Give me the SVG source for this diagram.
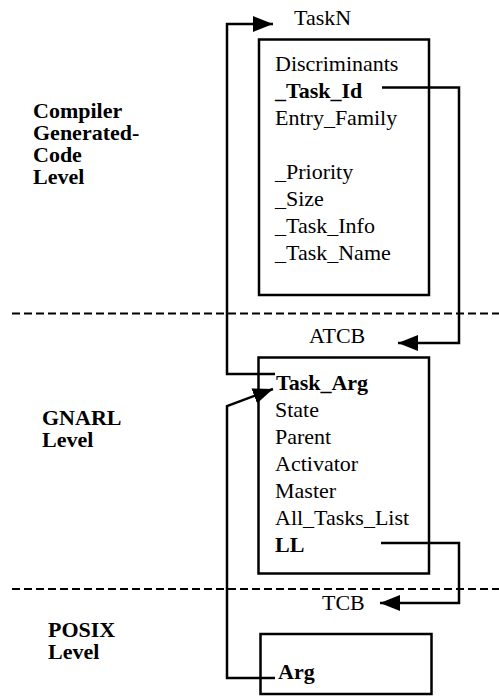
<svg xmlns="http://www.w3.org/2000/svg" width="499" height="696" viewBox="0 0 499 696">
  <style>
    .bg { fill: #ffffff; }
    .box { fill: none; stroke: #000; stroke-width: 2.5; }
    .link { fill: none; stroke: #000; stroke-width: 2.5; stroke-linejoin: miter; }
    .divider { fill: none; stroke: #000; stroke-width: 1.8; stroke-dasharray: 8 4; }
    .t { font-family: 'Liberation Serif', 'DejaVu Serif', serif; font-size: 22px; fill: #000; }
    .lbl { font-family: 'Liberation Serif', 'DejaVu Serif', serif; font-size: 22px; font-weight: bold; fill: #000; }
    .b { font-weight: bold; }
  </style>
  <defs>
    <marker id="arrow" markerUnits="userSpaceOnUse" markerWidth="20" markerHeight="16" refX="20" refY="8" orient="auto">
      <path d="M0,0 L20,8 L0,16 z" fill="#000"/>
    </marker>
  </defs>

  <rect class="bg" x="0" y="0" width="499" height="696"/>

  <!-- level dividers -->
  <g id="dividers">
    <line class="divider" x1="12" y1="313.5" x2="499" y2="313.5"/>
    <line class="divider" x1="12" y1="589" x2="499" y2="589"/>
  </g>

  <!-- level labels -->
  <g id="level-labels">
    <text class="lbl" x="33" y="118">Compiler</text>
    <text class="lbl" x="33" y="140">Generated-</text>
    <text class="lbl" x="33" y="162">Code</text>
    <text class="lbl" x="33" y="183.5">Level</text>
    <text class="lbl" x="42" y="425">GNARL</text>
    <text class="lbl" x="42" y="447">Level</text>
    <text class="lbl" x="48" y="637">POSIX</text>
    <text class="lbl" x="48" y="658.5">Level</text>
  </g>

  <!-- TaskN record -->
  <g id="taskn">
    <text class="t" x="294" y="25">TaskN</text>
    <rect class="box" x="259" y="39.5" width="170" height="255.5"/>
    <text class="t" x="275" y="71">Discriminants</text>
    <text class="t b" x="275" y="98">_Task_Id</text>
    <text class="t" x="275" y="125">Entry_Family</text>
    <text class="t" x="275" y="179">_Priority</text>
    <text class="t" x="275" y="206">_Size</text>
    <text class="t" x="275" y="233">_Task_Info</text>
    <text class="t" x="275" y="260">_Task_Name</text>
  </g>

  <!-- ATCB record -->
  <g id="atcb">
    <text class="t" x="309" y="343">ATCB</text>
    <rect class="box" x="258.5" y="357.5" width="170.5" height="216"/>
    <text class="t b" x="276" y="389.5">Task_Arg</text>
    <text class="t" x="275" y="416.5">State</text>
    <text class="t" x="275" y="443.5">Parent</text>
    <text class="t" x="275" y="470.5">Activator</text>
    <text class="t" x="275" y="497.5">Master</text>
    <text class="t" x="275" y="524.5">All_Tasks_List</text>
    <text class="t b" x="275" y="551.5">LL</text>
  </g>

  <!-- TCB record -->
  <g id="tcb">
    <text class="t" x="322" y="610">TCB</text>
    <rect class="box" x="260.5" y="634" width="171" height="60"/>
    <text class="t b" x="278" y="679">Arg</text>
  </g>

  <!-- pointers between records -->
  <g id="connectors">
    <path class="link" d="M275,374 H227 V24 H273" marker-end="url(#arrow)"/>
    <path class="link" d="M382,87.5 H459 V343 H398" marker-end="url(#arrow)"/>
    <path class="link" d="M381,543 H459 V603 H380" marker-end="url(#arrow)"/>
    <path class="link" d="M275,678 H227 V406 L273,389" marker-end="url(#arrow)"/>
  </g>
</svg>
